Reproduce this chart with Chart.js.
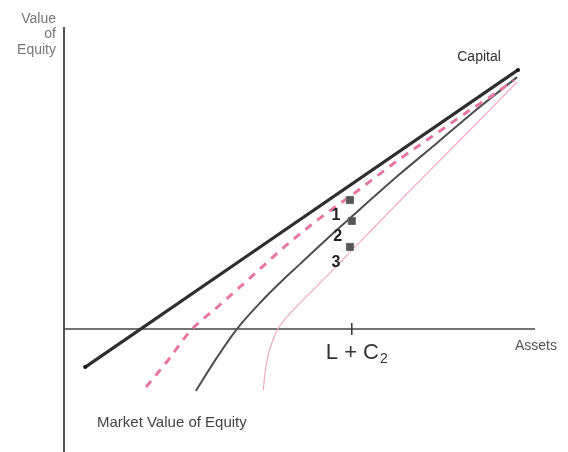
<!DOCTYPE html>
<html>
<head>
<meta charset="utf-8">
<script src="https://cdn.jsdelivr.net/npm/chart.js@4/dist/chart.umd.min.js"></script>
<style>
  html, body { margin: 0; padding: 0; background: #ffffff; }
  #wrap { width: 568px; height: 452px; }
</style>
</head>
<body>
<div id="wrap"><canvas id="c" width="568" height="452"></canvas></div>
<script>
// ---- data (arbitrary "asset" / "equity value" units) ----
const capitalX = [4.5, 96.4];
const capitalY = [-12.6, 85.8];

const curve1X = [17.4, 22.1, 26.8, 33.1, 39.7, 46.5, 54.4, 61.4, 71.3, 79.2, 86.2, 91.1, 95.5];
const curve1Y = [-19.2, -10.3, -0.7, 8.0, 17.2, 26.8, 36.8, 44.7, 56.3, 64.9, 72.5, 77.5, 82.4];

const curve2X = [28.0, 32.1, 36.7, 42.0, 46.9, 50.1, 56.5, 60.5, 71.3, 79.2, 86.2, 96.2];
const curve2Y = [-20.5, -10.3, 0.0, 9.3, 16.9, 21.5, 30.8, 36.4, 51.3, 61.6, 70.9, 83.4];

const curve3X = [42.3, 42.7, 43.3, 44.2, 45.4, 47.1, 49.3, 51.8, 56.1, 61.8, 71.3, 84.1, 96.2];
const curve3Y = [-20.2, -14.2, -8.9, -4.3, 0.0, 3.6, 7.3, 11.3, 18.0, 27.2, 42.4, 62.6, 81.8];

const squaresX = [60.7, 61.1, 60.7];
const squaresY = [42.7, 35.8, 27.2];
const squareLabels = ['1', '2', '3'];

const tickLabelMain = 'L + C';
const tickLabelSub = '2';
const tickX = 61.1;

const xMin = 0, xMax = 100;
const yMin = -40.7, yMax = 100;

const toPts = (xs, ys) => xs.map((x, i) => ({ x: x, y: ys[i] }));

const textPlugin = {
  id: 'textLabels',
  afterDatasetsDraw(chart) {
    const ctx = chart.ctx;
    const sx = chart.scales.x, sy = chart.scales.y;
    const px = v => sx.getPixelForValue(v);
    const py = v => sy.getPixelForValue(v);
    ctx.save();
    ctx.textBaseline = 'alphabetic';

    // Y axis title
    ctx.fillStyle = '#777';
    ctx.font = '14px "Liberation Sans", Arial, sans-serif';
    ctx.textAlign = 'right';
    const ax = px(xMin) - 8, top = py(yMax);
    ctx.fillText('Value', ax, top - 4);
    ctx.fillText('of', ax, top + 11);
    ctx.fillText('Equity', ax, top + 27);

    // Assets
    ctx.fillStyle = '#555';
    ctx.font = '14px "Liberation Sans", Arial, sans-serif';
    ctx.textAlign = 'left';
    ctx.fillText('Assets', px(xMax) - 20, py(0) + 21);

    // Capital
    ctx.fillStyle = '#333';
    ctx.font = '14px "Liberation Sans", Arial, sans-serif';
    ctx.textAlign = 'center';
    ctx.fillText('Capital', px(capitalX[1]) - 39, py(capitalY[1]) - 9);

    // L + C2
    ctx.fillStyle = '#333';
    ctx.font = '22px "Liberation Sans", Arial, sans-serif';
    ctx.textAlign = 'left';
    const mainW = ctx.measureText(tickLabelMain).width;
    ctx.font = '14px "Liberation Sans", Arial, sans-serif';
    const subW = ctx.measureText(tickLabelSub).width;
    const startX = px(tickX) + 5 - (mainW + subW + 1) / 2;
    const base = py(0) + 30;
    ctx.font = '22px "Liberation Sans", Arial, sans-serif';
    ctx.fillText(tickLabelMain, startX, base);
    ctx.font = '14px "Liberation Sans", Arial, sans-serif';
    ctx.fillText(tickLabelSub, startX + mainW + 1, base + 4);

    // 1 2 3
    ctx.fillStyle = '#222';
    ctx.font = 'bold 16px "Liberation Sans", Arial, sans-serif';
    ctx.textAlign = 'center';
    squareLabels.forEach((t, i) => {
      ctx.fillText(t, px(squaresX[i]) - 14, py(squaresY[i]) + 20);
    });

    // Market Value of Equity
    ctx.fillStyle = '#444';
    ctx.font = '15px "Liberation Sans", Arial, sans-serif';
    ctx.textAlign = 'left';
    ctx.fillText('Market Value of Equity', px(7.0), py(-32.5));

    ctx.restore();
  }
};

const lineBase = { showLine: true, pointRadius: 0, fill: false, clip: false, cubicInterpolationMode: 'monotone' };

new Chart(document.getElementById('c'), {
  type: 'scatter',
  data: {
    datasets: [
      Object.assign({}, lineBase, {
        label: 'squares', data: toPts(squaresX, squaresY), showLine: false,
        pointStyle: 'rect', pointRadius: 5, backgroundColor: '#555', borderColor: '#666', borderWidth: 1
      }),
      Object.assign({}, lineBase, {
        label: 'Capital', data: toPts(capitalX, capitalY),
        borderColor: '#2e2e2e', borderWidth: 3.2, pointRadius: 2, pointBackgroundColor: '#111', pointBorderWidth: 0
      }),
      Object.assign({}, lineBase, {
        label: '1', data: toPts(curve1X, curve1Y),
        borderColor: 'rgb(228,120,162)', borderWidth: 3, borderDash: [8, 7]
      }),
      Object.assign({}, lineBase, {
        label: '2', data: toPts(curve2X, curve2Y),
        borderColor: '#4f4f4f', borderWidth: 2
      }),
      Object.assign({}, lineBase, {
        label: '3', data: toPts(curve3X, curve3Y),
        borderColor: 'rgb(242,168,198)', borderWidth: 1.2
      }),
      Object.assign({}, lineBase, {
        label: 'tick', data: [{ x: tickX, y: -2 }, { x: tickX, y: 2 }],
        borderColor: '#333', borderWidth: 1.5, cubicInterpolationMode: 'default'
      }),
      Object.assign({}, lineBase, {
        label: 'xaxis', data: [{ x: xMin, y: 0 }, { x: xMax, y: 0 }],
        borderColor: '#444', borderWidth: 1.5, cubicInterpolationMode: 'default'
      }),
      Object.assign({}, lineBase, {
        label: 'yaxis', data: [{ x: xMin, y: yMin }, { x: xMin, y: yMax }],
        borderColor: '#555', borderWidth: 2, cubicInterpolationMode: 'default'
      })
    ]
  },
  options: {
    responsive: false,
    animation: false,
    layout: { autoPadding: false, padding: { left: 64, right: 33, top: 27, bottom: 0 } },
    plugins: { legend: { display: false }, tooltip: { enabled: false } },
    scales: {
      x: { type: 'linear', min: xMin, max: xMax, display: false },
      y: { type: 'linear', min: yMin, max: yMax, display: false }
    }
  },
  plugins: [textPlugin]
});
</script>
</body>
</html>
